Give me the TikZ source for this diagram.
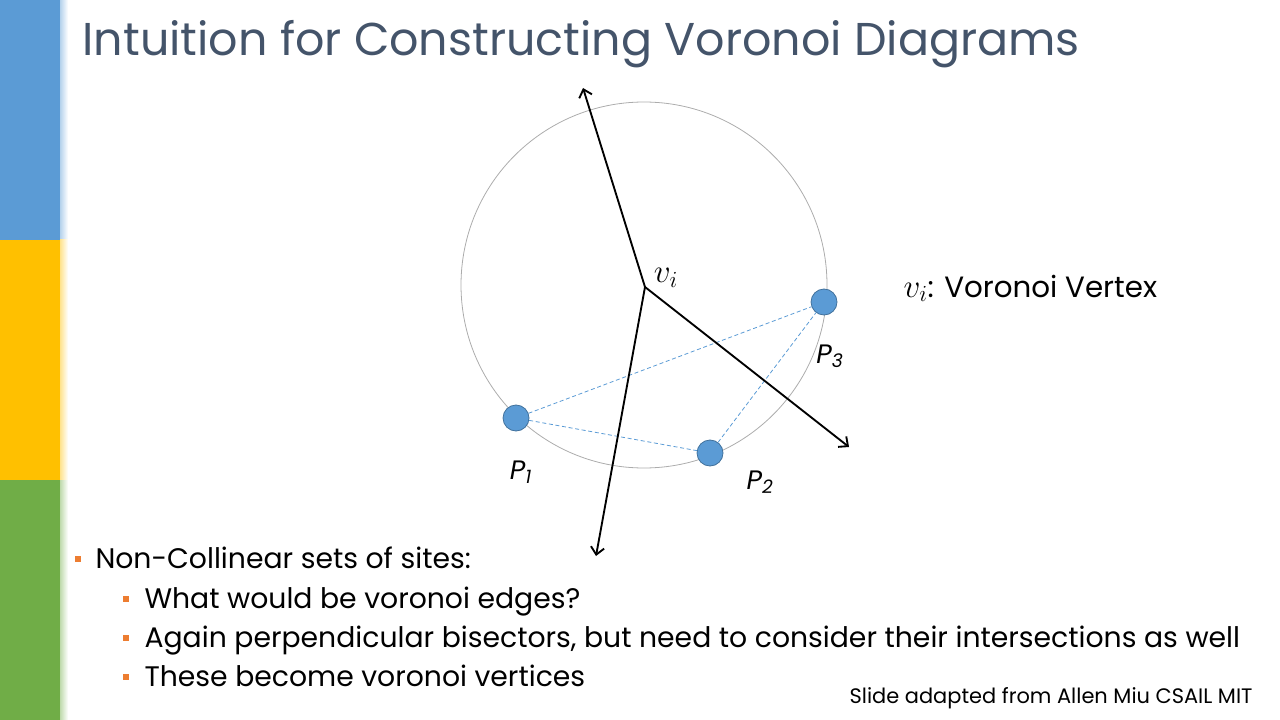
\documentclass[tikz,border=0pt]{standalone}
\usepackage{fontspec}
\setmainfont{Poppins}
\usetikzlibrary{positioning,arrows.meta}
\definecolor{barblue}{HTML}{5B9BD5}
\definecolor{baryellow}{HTML}{FFC000}
\definecolor{bargreen}{HTML}{70AD47}
\definecolor{siteedge}{HTML}{41719C}
\definecolor{titlecol}{HTML}{44546A}
\definecolor{bulletcol}{HTML}{ED7D31}

\begin{document}
\begin{tikzpicture}[x=0.75pt,y=-0.75pt, thick,
  site/.style={circle,draw=siteedge,fill=barblue,line width=0.6pt,minimum size=19.5pt,inner sep=0pt},
  ar/.style={line width=1.4pt,-{Straight Barb[length=5.5pt,width=10pt]}},
  chord/.style={barblue,line width=0.6pt,dash pattern=on 3pt off 2pt},
  bul/.style={fill=bulletcol,minimum size=4.5pt,inner sep=0pt},
  txt/.style={anchor=base west,inner sep=0pt,font=\fontsize{21.2}{25}\selectfont},
  lbl/.style={font=\fontsize{20}{24}\selectfont}]
      \useasboundingbox (0,0) rectangle (1280,720);
      % side bars
      \fill[barblue] (0,0) rectangle (60,240);
      \fill[baryellow] (0,240) rectangle (60,480);
      \fill[bargreen] (0,480) rectangle (60,720);
      \shade[left color=barblue!45,right color=white] (60,0) rectangle (68,240);
      \shade[left color=baryellow!45,right color=white] (60,240) rectangle (68,480);
      \shade[left color=bargreen!45,right color=white] (60,480) rectangle (68,720);

      \node[anchor=base west,inner sep=0pt,text=titlecol,font=\fontsize{34.5}{38}\selectfont] (title) at (82,56) {Intuition for Constructing Voronoi Diagrams};

      \draw[gray!65,line width=0.6pt] (644,285) circle[radius=183];
      \coordinate (v) at (645,287);
      \coordinate (up) at (583,88);
      \coordinate (dn) at (596,556);
      \coordinate (rt) at (849,447);
      \node[site] (1) at (516,418) {};
      \node[site] (2) at (710,453) {};
      \node[site] (3) at (824,302) {};

      \draw[chord] (1) -- (3);
      \draw[chord] (1) -- (2);
      \draw[chord] (2) -- (3);
      \draw[ar] (v) -- (up);
      \draw[ar] (v) -- (dn);
      \draw[ar] (v) -- (rt);

      \node[font=\fontsize{24}{28}\selectfont] (vl) at (666,278) {$v_i$};
      \node[lbl] (l1) at (521,472) {\textit{P}\textsubscript{\textit{1}}};
      \node[lbl] (l2) at (760,482) {\textit{P}\textsubscript{\textit{2}}};
      \node[lbl] (l3) at (830,356) {\textit{P}\textsubscript{\textit{3}}};
      \node[txt,font=\fontsize{22}{26}\selectfont] (key) at (903,297) {{\fontsize{25}{28}\selectfont$v_i$}: Voronoi Vertex};

      % bullets
      \node[bul] (b0) at (78,559) {};
      \node[txt] (t0) at (95,568) {Non-Collinear sets of sites:};
      \node[bul] (b1) at (126,599) {};
      \node[txt] (t1) at (144,608) {What would be voronoi edges?};
      \node[bul] (b2) at (126,638) {};
      \node[txt] (t2) at (144,647) {Again perpendicular bisectors, but need to consider their intersections as well};
      \node[bul] (b3) at (126,677) {};
      \node[txt] (t3) at (144,686) {These become voronoi vertices};

      \node[anchor=base east,inner sep=0pt,font=\fontsize{15.7}{18}\selectfont] (src) at (1253,703) {Slide adapted from Allen Miu CSAIL MIT};
\end{tikzpicture}
\end{document}
